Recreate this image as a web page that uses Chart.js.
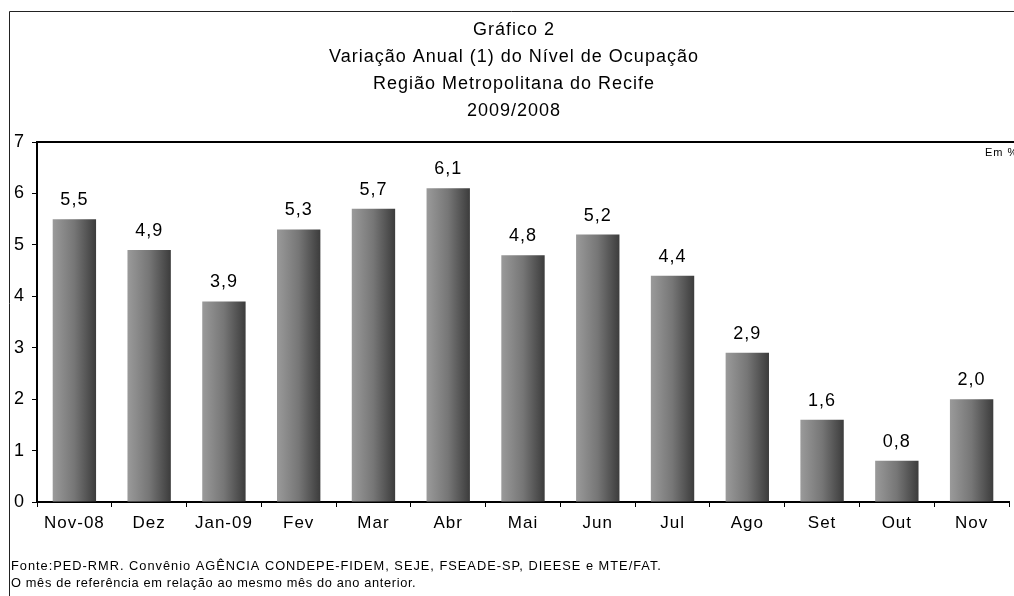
<!DOCTYPE html>
<html>
<head>
<meta charset="utf-8">
<script src="https://cdn.jsdelivr.net/npm/chart.js@4"></script>
<style>
  html, body { margin: 0; padding: 0; background: #fff; }
</style>
</head>
<body>
<canvas id="chart-ocupacao" width="1014" height="596"></canvas>
<script>
// Data
const MONTHS = ['Nov-08', 'Dez', 'Jan-09', 'Fev', 'Mar', 'Abr', 'Mai', 'Jun', 'Jul', 'Ago', 'Set', 'Out', 'Nov'];
const VARIATION = [5.5, 4.9, 3.9, 5.3, 5.7, 6.1, 4.8, 5.2, 4.4, 2.9, 1.6, 0.8, 2.0];
const Y_MIN = 0;
const Y_MAX = 7;

const TITLE_LINES = [
    'Gráfico 2',
    'Variação Anual (1) do Nível de Ocupação',
    'Região Metropolitana do Recife',
    '2009/2008'
];
const SOURCE_NOTES = [
    'Fonte:PED-RMR. Convênio AGÊNCIA CONDEPE-FIDEM, SEJE, FSEADE-SP, DIEESE e MTE/FAT.',
    'O mês de referência em relação ao mesmo mês do ano anterior.'
];
const UNIT_NOTE = 'Em %';

const FONT = "'Liberation Sans', Arial, sans-serif";
const BAR_PCT = 0.58;

// Horizontal grey gradient per bar (light left, dark right)
const barGradient = (c) => {
    const sx = c.chart.scales.x;
    if (!sx || c.type !== 'data') return '#707070';
    const cx = sx.getPixelForValue(c.dataIndex);
    const half = (sx.width / MONTHS.length) * BAR_PCT / 2;
    if (!isFinite(cx) || !isFinite(half) || half <= 0) return '#707070';
    const g = c.chart.ctx.createLinearGradient(cx - half, 0, cx + half, 0);
    g.addColorStop(0, '#9a9a9a');
    g.addColorStop(0.5, '#767676');
    g.addColorStop(1, '#3c3c3c');
    return g;
};

// the scanned original has slightly wide letter spacing everywhere
const wideText = {
    id: 'wideText',
    beforeLayout(chart) { chart.ctx.letterSpacing = '1px'; },
    beforeDraw(chart) { chart.ctx.letterSpacing = '1px'; }
};

// Frame, value labels, unit and source notes
const decorations = {
    id: 'decorations',
    afterDraw(chart) {
        const { ctx, chartArea } = chart;
        ctx.save();

        // outer frame (left + top)
        ctx.strokeStyle = '#222';
        ctx.lineWidth = 1;
        ctx.beginPath();
        ctx.moveTo(9.5, 596);
        ctx.lineTo(9.5, 11.5);
        ctx.lineTo(1014, 11.5);
        ctx.stroke();

        // top edge of plot area
        ctx.strokeStyle = '#000';
        ctx.lineWidth = 2;
        ctx.beginPath();
        ctx.moveTo(chartArea.left - 1, chartArea.top);
        ctx.lineTo(1014, chartArea.top);
        ctx.stroke();

        // value labels above bars
        const meta = chart.getDatasetMeta(0);
        ctx.fillStyle = '#000';
        ctx.font = `18px ${FONT}`;
        ctx.textAlign = 'center';
        ctx.textBaseline = 'alphabetic';
        meta.data.forEach((bar, i) => {
            const txt = VARIATION[i].toFixed(1).replace('.', ',');
            ctx.fillText(txt, bar.x, bar.y - 14);
        });

        // unit note
        ctx.font = `11px ${FONT}`;
        ctx.textAlign = 'left';
        ctx.fillText(UNIT_NOTE, 985, 156);

        // source notes (second line is set tighter in the original)
        ctx.font = `12.8px ${FONT}`;
        SOURCE_NOTES.forEach((line, i) => {
            ctx.letterSpacing = i === 0 ? '1px' : '0.65px';
            ctx.fillText(line, 11, 570 + i * 17);
        });

        ctx.restore();
    }
};

const ctx = document.getElementById('chart-ocupacao').getContext('2d');

new Chart(ctx, {
    type: 'bar',
    data: {
        labels: MONTHS,
        datasets: [{
            label: 'Variação anual',
            data: VARIATION,
            backgroundColor: barGradient,
            borderWidth: 0,
            categoryPercentage: 1,
            barPercentage: BAR_PCT
        }]
    },
    options: {
        responsive: false,
        animation: false,
        layout: {
            padding: { left: 14, right: 0, top: 0, bottom: 52 }
        },
        plugins: {
            legend: { display: false },
            tooltip: { enabled: false },
            title: {
                display: true,
                text: TITLE_LINES,
                color: '#000',
                font: { family: FONT, size: 18, weight: 'normal', lineHeight: 1.5 },
                padding: { top: 17, bottom: 17 }
            }
        },
        scales: {
            x: {
                grid: {
                    display: true,
                    offset: true,
                    drawOnChartArea: false,
                    drawTicks: true,
                    tickLength: 5,
                    color: '#000'
                },
                border: { display: true, color: '#000', width: 2 },
                ticks: {
                    color: '#000',
                    font: { family: FONT, size: 17 },
                    padding: 6,
                    maxRotation: 0,
                    autoSkip: false
                },
                afterFit: (s) => { s.height = 42; }
            },
            y: {
                min: Y_MIN,
                max: Y_MAX,
                grid: {
                    display: true,
                    drawOnChartArea: false,
                    drawTicks: true,
                    tickLength: 5,
                    color: '#000'
                },
                border: { display: true, color: '#000', width: 2 },
                ticks: {
                    stepSize: 1,
                    color: '#000',
                    font: { family: FONT, size: 18 },
                    padding: 7
                },
                afterFit: (s) => { s.width = 23; }
            },
            // empty strip on the right so the plot ends just short of the edge
            yRight: {
                position: 'right',
                display: true,
                grid: { display: false },
                border: { display: false },
                ticks: { display: false },
                afterFit: (s) => { s.width = 5; }
            }
        }
    },
    plugins: [wideText, decorations]
});
</script>
</body>
</html>
